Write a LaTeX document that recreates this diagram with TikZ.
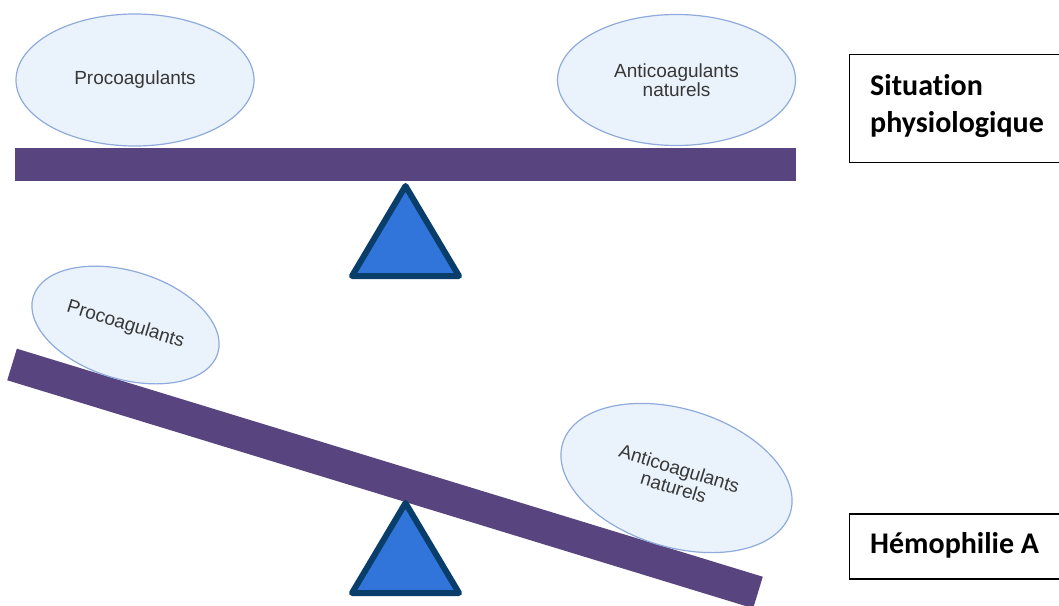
\documentclass[tikz,border=0pt]{standalone}
\usepackage{fontspec}
\setmainfont{Liberation Sans}
\newfontfamily\boxfont[Ligatures=NoCommon]{Carlito}
\usetikzlibrary{positioning,shapes.geometric}

\definecolor{beamcol}{RGB}{88,69,127}
\definecolor{platefill}{RGB}{234,242,251}
\definecolor{plateline}{RGB}{143,170,220}
\definecolor{pivotfill}{RGB}{50,117,218}
\definecolor{pivotline}{RGB}{10,62,106}
\definecolor{labelgray}{RGB}{55,55,55}

\begin{document}
\begin{tikzpicture}[x=1pt,y=-1pt,
    beam/.style={rectangle,fill=beamcol,inner sep=0,minimum width=781,minimum height=33},
    plate/.style={ellipse,draw=plateline,fill=platefill,line width=1.2pt,inner sep=0,
                  text=labelgray,align=center,font=\fontsize{19}{19.5}\selectfont},
    pivot/.style={draw=pivotline,fill=pivotfill,line width=6pt,line join=round},
    state box/.style={rectangle,draw=black,line width=1.3pt,inner sep=0,minimum width=215,anchor=north west},
    state text/.style={inner sep=0,align=left,font=\boxfont\bfseries\fontsize{30}{37}\selectfont}]

  \useasboundingbox (0,0) rectangle (1059,605);

  \node[beam] (beam1) at (405.5,164.5) {};
  \node[plate,minimum width=238,minimum height=132] (pro1) at (135,80) {Procoagulants};
  \node[plate,minimum width=238,minimum height=131] (anti1) at (676.5,80) {Anticoagulants\\naturels};
  \draw[pivot] (405.5,186) -- (459,276) -- (352,276) -- cycle;

  \node[beam,minimum width=780,rotate=-17] (beam2) at (385,478.5) {};
  \node[plate,minimum width=193,minimum height=108,rotate=-17] (pro2) at (125.5,325) {Procoagulants};
  \node[plate,minimum width=238,minimum height=138,rotate=-17] (anti2) at (676.5,478) {Anticoagulants\\naturels};
  \draw[pivot] (405.5,503) -- (459,593) -- (352,593) -- cycle;

  \node[state box,minimum height=108] (physio) at (849,54) {};
  \node[state text,anchor=north west] (physiotxt) at ([xshift=21pt,yshift=-20pt]physio.north west) {Situation\\physiologique};

  \node[state box,minimum height=65] (hemo) [below=350pt of physio] {};
  \node[state text,anchor=base west] (hemotxt) at ([xshift=21pt,yshift=-7.5pt]hemo.west) {Hémophilie A};

\end{tikzpicture}
\end{document}
